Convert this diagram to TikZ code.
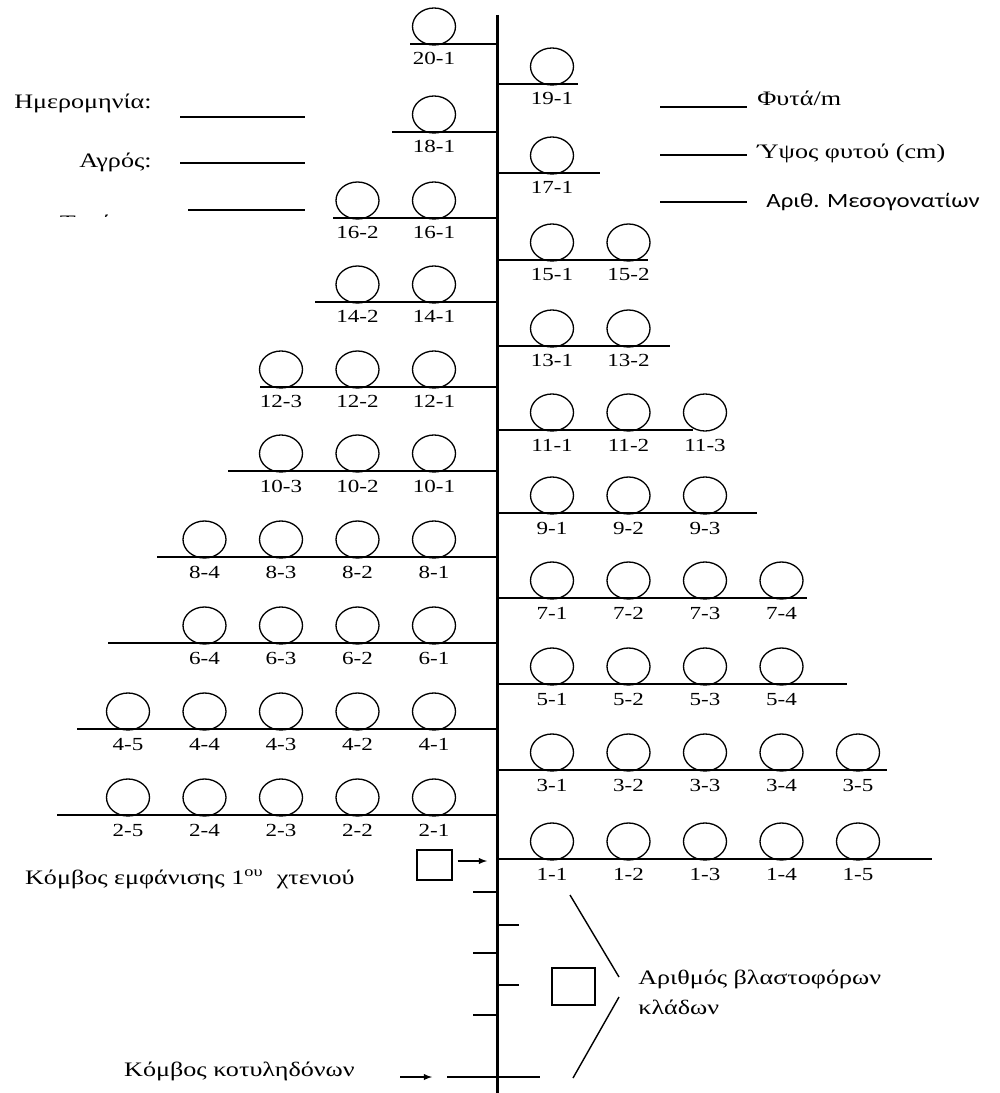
\documentclass[tikz,border=0pt]{standalone}
\usepackage{fontspec}
\usepackage{graphicx}
\setmainfont{Liberation Serif}
\newfontfamily\calibri{Carlito}
\usetikzlibrary{shapes.geometric}

\tikzstyle{bud} = [ellipse, draw, inner sep=0mm, minimum width=8.6mm, minimum height=7.4mm, line width=0.75pt]
\tikzstyle{num} = [anchor=base, inner sep=0mm, font=\fontsize{10.5}{12}\selectfont]
\tikzstyle{branch} = [line width=0.8pt]
\tikzstyle{tag} = [inner sep=0mm, font=\fontsize{11.7}{17}\selectfont]
\tikzstyle{box} = [rectangle, draw, inner sep=0mm, line width=0.8pt]
\tikzstyle{pointer} = [->, line width=0.6pt]

\newcommand{\wnum}[1]{\scalebox{1.25}[1]{#1}}
\newcommand{\wtext}[1]{\scalebox{1.27}[1]{#1}}

\begin{document}
\begin{tikzpicture}[x=0.2mm, y=-0.2mm, >=latex]
		\useasboundingbox (0,0) rectangle (999,1093);
		%\draw[help lines, step=50] (0,0) grid (999,1093);
		
		% stem
		\coordinate (top) at (497,15);
		\coordinate (base) at (497,1093);
		\draw[line width=1.7pt] (top) -- (base);
		
		% even nodes, left of the stem
		\foreach \row/\nb/\yy/\xe in {20/1/44/410, 18/1/132/392, 16/2/218/333,
			14/2/302/315, 12/3/387/260, 10/3/471/228, 8/4/557/157,
			6/4/643/108, 4/5/729/77, 2/5/815/57} {
			\coordinate (s\row) at (497,\yy);
			\coordinate (e\row) at (\xe,\yy);
			\draw[branch] (s\row) -- (e\row);
			\foreach \col in {1,...,\nb} {
				\node[bud] (b\row_\col) at ({434-76.5*(\col-1)}, \yy-17.5) {};
				\node[num] (t\row_\col) at ({434-76.5*(\col-1)}, \yy+21) {\wnum{\row-\col}};
			}
		}
		
		% odd nodes, right of the stem
		\foreach \row/\nb/\yy/\xe in {19/1/84/578, 17/1/173/600, 15/2/260/648,
			13/2/346/670, 11/3/430/693, 9/3/513/757, 7/4/598/807,
			5/4/684/847, 3/5/770/887, 1/5/859/932} {
			\coordinate (s\row) at (497,\yy);
			\coordinate (e\row) at (\xe,\yy);
			\draw[branch] (s\row) -- (e\row);
			\foreach \col in {1,...,\nb} {
				\node[bud] (b\row_\col) at ({552+76.5*(\col-1)}, \yy-17.5) {};
				\node[num] (t\row_\col) at ({552+76.5*(\col-1)}, \yy+21) {\wnum{\row-\col}};
			}
		}
		
		% fields
		\node[tag, anchor=base east] (f1) at (152,109) {\wtext{Ημερομηνία:}};
		\node[tag, anchor=base east] (f2) at (152,168) {\wtext{Αγρός:}};
		\begin{scope}
			\clip (0,195) rectangle (170,217);
			\node[tag, anchor=base east] (f3) at (152,229.5) {\wtext{Τεμάχιο:}};
		\end{scope}
		\foreach \i/\xa/\yy in {1/180/117, 2/180/163, 3/188/210}
		\draw[branch] (\xa,\yy) coordinate (fl\i) -- (305,\yy) coordinate (fr\i);
		
		\node[tag, anchor=base west] (g1) at (757,106) {\wtext{Φυτά/m}};
		\node[tag, anchor=base west] (g2) at (757,159) {\wtext{Ύψος φυτού (cm)}};
		\node[tag, anchor=base west, font=\calibri\fontsize{11.5}{14}\selectfont] (g3) at (766,208) {\scalebox{1.23}[1]{Αριθ. Μεσογονατίων}};
		\foreach \i/\yy in {1/107, 2/155, 3/202}
		\draw[branch] (660,\yy) coordinate (gl\i) -- (747,\yy) coordinate (gr\i);
		
		% first comb node
		\node[box, minimum width=7mm, minimum height=6mm] (sq1) at (434.5,865) {};
		\coordinate (a1) at (487,861);
		\draw[pointer, shorten <=1mm] (sq1.east |- a1) -- (a1);
		\node[tag, anchor=base east] (k1) at (355,884) {\wtext{Κόμβος εμφάνισης 1\textsuperscript{ου}\ \ χτενιού}};
		
		% lower nodes
		\foreach \yy in {892, 953, 1015}
		\draw[branch] (473,\yy) -- (497,\yy);
		\foreach \yy in {925, 985}
		\draw[branch] (497,\yy) -- (519,\yy);
		
		\coordinate (c0) at (400,1077);
		\coordinate (c1) at (432,1077);
		\coordinate (c2) at (447,1077);
		\coordinate (c3) at (540,1077);
		\draw[pointer] (c0) -- (c1);
		\draw[branch] (c2) -- (c3);
		\node[tag, anchor=base east] (k2) at (355,1076) {\wtext{Κόμβος κοτυληδόνων}};
		
		% bearing branches
		\node[box, minimum width=8.6mm, minimum height=7.4mm] (sq2) at (573.5,986.5) {};
		\coordinate (p0) at (570,895);
		\coordinate (p1) at (619,977);
		\coordinate (p2) at (619,997);
		\coordinate (p3) at (573,1078);
		\draw[branch] (p0) -- (p1);
		\draw[branch] (p2) -- (p3);
		\node[tag, anchor=west, align=left] (k3) at (638,992) {\wtext{Αριθμός βλαστοφόρων}\\\wtext{κλάδων}};
		
	\end{tikzpicture}
\end{document}
